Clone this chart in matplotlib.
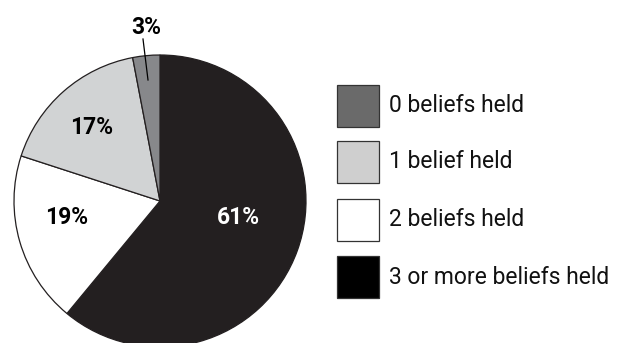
import matplotlib
matplotlib.use("Agg")
import matplotlib.pyplot as plt
from matplotlib.patches import Rectangle

plt.rcParams["font.family"] = ["Roboto", "DejaVu Sans"]

# data (clockwise from 12 o'clock)
categories = ["3 or more beliefs held", "2 beliefs held", "1 belief held", "0 beliefs held"]
shares = [61, 19, 17, 3]
slice_colors = ["#231f20", "#ffffff", "#d1d3d4", "#87888b"]
label_colors = ["white", "black", "black", "black"]

# legend order (top to bottom)
legend_labels = ["0 beliefs held", "1 belief held", "2 beliefs held", "3 or more beliefs held"]
legend_colors = ["#6a6a6a", "#cfcfcf", "#ffffff", "#000000"]

W, H = 627, 343
fig = plt.figure(figsize=(W / 100, H / 100), dpi=100)
ax = fig.add_axes([0, 0, 1, 1])

cx, cy, r = 160, H - 201, 146
wedges, _ = ax.pie(shares, colors=slice_colors, startangle=90, counterclock=False,
                   center=(cx, cy), radius=r,
                   wedgeprops=dict(edgecolor="#231f20", linewidth=0.9))

# percentage labels (pixel positions measured from the top)
label_pos = [(238, 218), (67, 218), (92, 128)]
for (x, y), v, c in zip(label_pos, shares[:3], label_colors[:3]):
    ax.text(x, H - y, f"{v}%", ha="center", va="center", fontsize=16.5,
            fontweight="bold", color=c)

# small slice: label outside with a leader line
ax.text(146, H - 27, f"{shares[3]}%", ha="center", va="center", fontsize=16.5,
        fontweight="bold", color="black")
ax.plot([143, 148], [H - 39, H - 80], color="black", linewidth=0.9)

# legend
box_x, box_w = 337, 42
box_tops = [85, 141, 199, 256]
for top, lab, col in zip(box_tops, legend_labels, legend_colors):
    ax.add_patch(Rectangle((box_x, H - top - box_w), box_w, box_w,
                           facecolor=col, edgecolor="#333333", linewidth=0.9))
    ax.text(389, H - top - box_w / 2, lab, ha="left", va="center",
            fontsize=16.5, color="#111111")

ax.set_xlim(0, W)
ax.set_ylim(0, H)
ax.set_aspect("equal")
ax.axis("off")

fig.savefig("out.png", dpi=100, facecolor="white")
